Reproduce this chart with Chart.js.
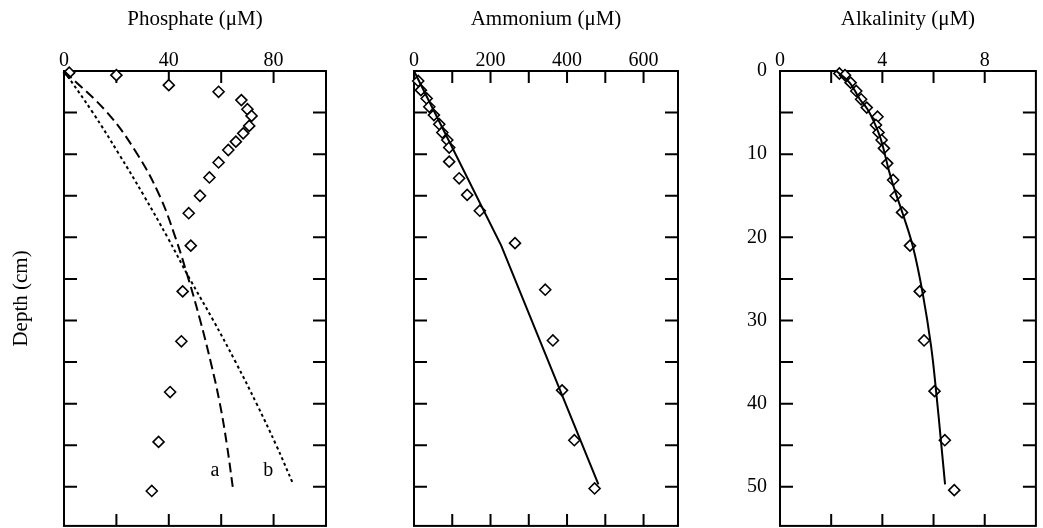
<!DOCTYPE html>
<html>
<head>
<meta charset="utf-8">
<script src="https://cdn.jsdelivr.net/npm/chart.js@4.4.0/dist/chart.umd.min.js"></script>
<style>
  body { margin: 0; background: #fff; overflow: hidden; }
  canvas { position: absolute; top: 0; }
</style>
</head>
<body>
<canvas id="phos" width="345" height="533" style="left:0px"></canvas>
<canvas id="amm" width="350" height="533" style="left:345px"></canvas>
<canvas id="alk" width="348" height="533" style="left:695px"></canvas>
<script>
// Phosphate profile (depth cm, conc uM)
var phosDepth = [0.2, 0.5, 1.7, 2.5, 3.5, 4.6, 5.4, 6.6, 7.5, 8.5, 9.5, 11, 12.8, 15, 17.1, 21, 26.5, 32.5, 38.6, 44.6, 50.5];
var phosConc  = [2, 20, 40, 59, 67.7, 70, 71.6, 70.7, 68.4, 65.6, 62.7, 59, 55.5, 51.9, 47.6, 48.4, 45.3, 44.8, 40.5, 36.1, 33.5];
// model curve a (dashed) and b (dotted)
var curveADepth = [0, 5, 10, 15, 20, 25, 30, 35, 40, 45, 50];
var curveAConc  = [0, 16.5, 28, 36.5, 42.5, 47.5, 52, 56, 59.5, 62.2, 64.4];
var curveBDepth = [0, 5, 10, 15, 20, 25, 30, 35, 40, 45, 49.7];
var curveBConc  = [0, 11, 21, 30.5, 39.5, 48, 57, 65.5, 73.5, 81, 87.5];
var curveLabels = ['a', 'b'];
var curveLabelConc = [57.6, 78];
var curveLabelDepth = [48.1, 48.1];

// Ammonium profile
var ammDepth = [1.2, 2.3, 3.3, 4.3, 5.3, 6.4, 7.4, 8.3, 9.2, 10.9, 12.9, 14.9, 16.8, 20.7, 26.3, 32.4, 38.4, 44.4, 50.2];
var ammConc  = [11, 18, 33, 40, 52, 66, 74, 87, 92, 92, 118, 139, 172, 264, 343, 363, 387, 419, 472];
var ammFitDepth = [0, 21, 49.7];
var ammFitConc  = [0, 228, 482];

// Alkalinity profile
var alkDepth = [0.3, 0.5, 1.4, 2.4, 3.4, 4.4, 5.5, 6.5, 7.4, 8.3, 9.3, 11.1, 13.1, 15, 17, 21, 26.5, 32.4, 38.5, 44.4, 50.4];
var alkConc  = [2.32, 2.54, 2.76, 2.98, 3.17, 3.39, 3.81, 3.75, 3.85, 3.97, 4.06, 4.19, 4.42, 4.52, 4.77, 5.08, 5.46, 5.63, 6.04, 6.44, 6.81];
var alkFitDepth = [0, 1.4, 3.4, 4.6, 6.3, 8.3, 11.9, 14, 17.2, 21.2, 26.8, 33, 38.5, 44.5, 49.7];
var alkFitConc  = [2.2, 2.72, 3.12, 3.42, 3.7, 3.95, 4.25, 4.45, 4.8, 5.2, 5.58, 5.9, 6.1, 6.29, 6.45];

// tick positions and which of them carry a label
var phosTicks = [0, 20, 40, 60, 80, 100];
var phosLabels = [0, 40, 80];
var ammTicks = [0, 100, 200, 300, 400, 500, 600];
var ammLabels = [0, 200, 400, 600];
var alkTicks = [0, 2, 4, 6, 8, 10];
var alkLabels = [0, 4, 8];
var depthTicks = [0, 5, 10, 15, 20, 25, 30, 35, 40, 45, 50];
var depthLabels = [0, 10, 20, 30, 40, 50];

Chart.defaults.font.family = '"Liberation Serif", "Times New Roman", serif';
Chart.defaults.font.size = 20;
Chart.defaults.color = '#000';

function pts(xs, ys) {
  return xs.map(function(v, i) { return {x: v, y: ys[i]}; });
}

// box + inward tick marks
var frame = {
  id: 'frame',
  beforeDatasetsDraw: function(chart) {
    var ctx = chart.ctx, a = chart.chartArea, x = chart.scales.x, y = chart.scales.y;
    ctx.save();
    ctx.strokeStyle = '#000';
    ctx.lineWidth = 2;
    ctx.strokeRect(a.left, a.top, a.right - a.left, a.bottom - a.top);
    ctx.beginPath();
    x.ticks.forEach(function(t) {
      if (t.value <= x.min || t.value >= x.max) return;
      var px = x.getPixelForValue(t.value);
      ctx.moveTo(px, a.top); ctx.lineTo(px, a.top + 12);
      ctx.moveTo(px, a.bottom); ctx.lineTo(px, a.bottom - 12);
    });
    y.ticks.forEach(function(t) {
      if (t.value <= y.min || t.value >= y.max) return;
      var py = y.getPixelForValue(t.value);
      ctx.moveTo(a.left, py); ctx.lineTo(a.left + 13, py);
      ctx.moveTo(a.right, py); ctx.lineTo(a.right - 13, py);
    });
    ctx.stroke();
    ctx.restore();
  }
};

var curveText = {
  id: 'curveText',
  afterDatasetsDraw: function(chart) {
    var ctx = chart.ctx;
    ctx.save();
    ctx.font = '20px "Liberation Serif", serif';
    ctx.fillStyle = '#000';
    ctx.textAlign = 'center';
    ctx.textBaseline = 'middle';
    curveLabels.forEach(function(t, i) {
      ctx.fillText(t, chart.scales.x.getPixelForValue(curveLabelConc[i]), chart.scales.y.getPixelForValue(curveLabelDepth[i]));
    });
    ctx.restore();
  }
};

function obs(data) {
  return {
    type: 'scatter', data: data, pointStyle: 'rectRot', pointRadius: 5.5,
    borderColor: '#000', backgroundColor: '#fff', pointBorderWidth: 1.6, clip: false
  };
}
function curve(data, dash, tension) {
  return {
    type: 'line', data: data, borderColor: '#000', borderWidth: 2, borderDash: dash,
    pointRadius: 0, tension: tension, fill: false, clip: false
  };
}

function setTicks(list) {
  return function(s) { s.ticks = list.map(function(v) { return {value: v}; }); };
}
function showOnly(list) {
  return function(v) { return list.indexOf(v) >= 0 ? String(v) : ''; };
}

function panel(id, title, xmax, xTicks, xLabels, yWidth, padRight, datasets, yOpts, plugins) {
  return new Chart(document.getElementById(id), {
    type: 'scatter',
    data: { datasets: datasets },
    options: {
      responsive: false,
      animation: false,
      events: [],
      layout: { padding: { right: padRight, bottom: 3, left: 0, top: 0 } },
      plugins: { legend: { display: false }, tooltip: { enabled: false } },
      scales: {
        x: {
          type: 'linear', position: 'top', min: 0, max: xmax,
          grid: { display: false, drawTicks: false },
          border: { display: false },
          afterBuildTicks: setTicks(xTicks),
          ticks: { autoSkip: false, padding: -2, maxRotation: 0, callback: showOnly(xLabels) },
          title: { display: true, text: title, font: { size: 21 }, padding: { top: 7, bottom: 0 } },
          afterFit: function(s) { s.height = 71; s.paddingLeft = 0; s.paddingRight = 0; }
        },
        y: Object.assign({
          type: 'linear', position: 'left', min: 0, max: 54.7, reverse: true,
          grid: { display: false, drawTicks: false },
          border: { display: false },
          afterBuildTicks: setTicks(depthTicks),
          afterFit: function(s) { s.width = yWidth; s.paddingTop = 0; s.paddingBottom = 0; }
        }, yOpts)
      }
    },
    plugins: plugins
  });
}

panel('phos', 'Phosphate (\u03BCM)', 100, phosTicks, phosLabels, 64, 19, [
  curve(pts(curveAConc, curveADepth), [10, 5], 0.4),
  curve(pts(curveBConc, curveBDepth), [3, 3], 0.4),
  obs(pts(phosConc, phosDepth))
], {
  ticks: { display: false },
  title: { display: true, text: 'Depth (cm)', font: { size: 21 }, padding: { top: 9, bottom: 0 } }
}, [frame, curveText]);

panel('amm', 'Ammonium (\u03BCM)', 690, ammTicks, ammLabels, 69, 17, [
  curve(pts(ammFitConc, ammFitDepth), [], 0),
  obs(pts(ammConc, ammDepth))
], {
  ticks: { display: false }
}, [frame]);

panel('alk', 'Alkalinity (\u03BCM)', 10, alkTicks, alkLabels, 85, 1, [
  curve(pts(alkFitConc, alkFitDepth), [], 0.4),
  obs(pts(alkConc, alkDepth))
], {
  ticks: { padding: 13, autoSkip: false, callback: showOnly(depthLabels) }
}, [frame]);
</script>
</body>
</html>
